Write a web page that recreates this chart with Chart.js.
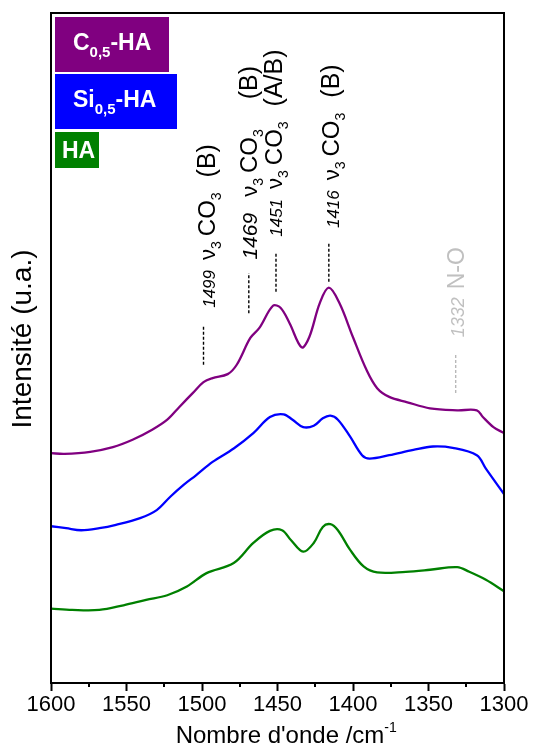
<!DOCTYPE html>
<html>
<head>
<meta charset="utf-8">
<script src="https://cdn.jsdelivr.net/npm/chart.js@4.4.0/dist/chart.umd.min.js"></script>
<style>
  html, body { margin: 0; padding: 0; background: #fff; }
  #wrap { width: 533px; height: 749px; }
</style>
</head>
<body>
<div id="wrap"><canvas id="spectra" width="533" height="749"></canvas></div>
<script>
// FTIR spectra, carbonate region (wavenumber in cm-1, intensity in a.u.)
const wnC = [1600, 1591, 1574, 1559, 1546, 1533, 1523, 1515, 1506, 1499, 1493, 1483, 1477, 1468, 1462, 1453, 1448, 1442, 1434, 1429, 1422, 1416, 1409, 1400, 1391, 1384, 1376, 1364, 1349, 1331, 1318, 1314, 1307, 1300];
const intC = [34.3, 34.2, 34.5, 35.2, 36.3, 37.8, 39.3, 41.2, 43.3, 44.9, 45.5, 46.1, 47.5, 51.5, 53.0, 56.3, 56.0, 53.7, 50.1, 51.6, 56.7, 59.0, 56.7, 51.6, 46.7, 44.0, 42.7, 41.9, 41.0, 40.7, 40.7, 39.7, 38.2, 37.3];

const wnSi = [1600, 1590, 1580, 1568, 1557, 1541, 1530, 1521, 1512, 1504, 1493, 1479, 1466, 1455, 1446, 1440, 1433, 1426, 1420, 1415, 1410, 1402, 1394, 1389, 1376, 1360, 1347, 1334, 1318, 1312, 1300];
const intSi = [23.4, 23.1, 22.8, 23.1, 23.6, 24.6, 25.8, 27.8, 29.6, 31.0, 33.0, 35.0, 37.3, 39.7, 40.1, 39.3, 38.2, 38.4, 39.5, 39.9, 39.3, 36.8, 34.0, 33.5, 34.0, 34.8, 35.3, 35.1, 34.0, 32.0, 28.2];

const wnHA = [1600, 1586, 1568, 1552, 1537, 1523, 1510, 1497, 1479, 1466, 1455, 1447, 1441, 1433, 1426, 1420, 1415, 1410, 1402, 1393, 1384, 1365, 1349, 1331, 1323, 1312, 1300];
const intHA = [11.1, 10.9, 10.9, 11.6, 12.4, 13.1, 14.4, 16.4, 17.9, 20.9, 22.7, 22.8, 21.3, 19.6, 20.9, 23.3, 23.7, 22.8, 19.9, 17.4, 16.5, 16.6, 16.9, 17.3, 16.6, 15.4, 13.7];

// band assignments
const bandPos = [1499, 1469, 1451, 1416, 1332];
const bandNum = ['1499', '1469', '1451', '1416', '1332'];
const bandSite = ['(B)', '(B)', '(A/B)', '(B)', ''];

const xTicks = [1600, 1550, 1500, 1450, 1400, 1350, 1300];

function toPoints(xs, ys) {
    return xs.map((x, i) => ({ x: x, y: ys[i] }));
}

const series = [
    { label: 'C0,5-HA', base: 'C', sub: '0,5', color: '#800080', data: toPoints(wnC, intC) },
    { label: 'Si0,5-HA', base: 'Si', sub: '0,5', color: '#0000ff', data: toPoints(wnSi, intSi) },
    { label: 'HA', base: 'HA', sub: '', color: '#008000', data: toPoints(wnHA, intHA) }
];

const FONT = '"Liberation Sans", Arial, sans-serif';

// draw a run of text parts (size, italic, bold, dy offset, gap before)
function drawParts(ctx, parts, x, y) {
    let cx = x;
    parts.forEach(p => {
        cx += p.gap || 0;
        ctx.font = (p.italic ? 'italic ' : '') + (p.bold ? 'bold ' : '') + p.size + 'px ' + FONT;
        ctx.fillText(p.t, cx, y + (p.dy || 0));
        cx += ctx.measureText(p.t).width;
    });
    return cx - x;
}

const decorPlugin = {
    id: 'decor',
    afterDraw(chart) {
        const ctx = chart.ctx;
        const area = chart.chartArea;
        const xs = chart.scales.x;
        const ys = chart.scales.y;
        ctx.save();

        // frame
        ctx.strokeStyle = '#000';
        ctx.lineWidth = 2;
        ctx.strokeRect(area.left, area.top, area.right - area.left, area.bottom - area.top);

        // minor ticks
        for (let v = 1575; v > 1300; v -= 50) {
            const px = Math.round(xs.getPixelForValue(v));
            ctx.beginPath();
            ctx.moveTo(px, area.bottom);
            ctx.lineTo(px, area.bottom + 4);
            ctx.stroke();
        }

        // band markers + labels
        const lineTop = [53.4, 61.2, 64.2, 65.8, 49.0];
        const lineBot = [47.5, 55.2, 58.4, 59.9, 43.3];
        const textStart = [56.0, 63.2, 66.6, 67.9, 51.6];
        const textShift = [11, 8, 6, 10, 8];
        const numSize = [17, 21, 17, 17, 18];
        const numGap = [10, 16, 10, 10, 8];
        const siteGap = [15, 30, 15, 15, 0];
        bandPos.forEach((b, i) => {
            const grey = i === 4;
            const px = xs.getPixelForValue(b);
            ctx.strokeStyle = grey ? '#b8b8b8' : '#000';
            ctx.lineWidth = 1.4;
            ctx.setLineDash([3, 2]);
            ctx.beginPath();
            ctx.moveTo(px, ys.getPixelForValue(lineBot[i]));
            ctx.lineTo(px, ys.getPixelForValue(lineTop[i]));
            ctx.stroke();
            ctx.setLineDash([]);

            ctx.save();
            ctx.translate(px + textShift[i], ys.getPixelForValue(textStart[i]));
            ctx.rotate(-Math.PI / 2);
            ctx.fillStyle = grey ? '#c0c0c0' : '#000';
            ctx.textBaseline = 'alphabetic';
            let parts;
            if (grey) {
                parts = [{ t: bandNum[i], italic: true, size: numSize[i] }, { t: 'N-O', size: 23, gap: numGap[i] }];
            } else {
                parts = [
                    { t: bandNum[i], italic: true, size: numSize[i] },
                    { t: 'ν', size: 22, gap: numGap[i] },
                    { t: '3', size: 14, dy: 6 },
                    { t: 'CO', size: 24, gap: 5 },
                    { t: '3', size: 14, dy: 6 },
                    { t: bandSite[i], size: 25, gap: siteGap[i] }
                ];
            }
            drawParts(ctx, parts, 0, 0);
            ctx.restore();
        });

        // legend boxes
        const boxes = [[55, 17, 114, 55], [55, 74, 122, 55], [55, 132, 44, 36]];
        const textPos = [[73, 50], [73, 107], [62, 158]];
        series.forEach((s, i) => {
            const r = boxes[i];
            ctx.fillStyle = s.color;
            ctx.fillRect(r[0], r[1], r[2], r[3]);
            ctx.fillStyle = '#fff';
            ctx.textBaseline = 'alphabetic';
            const parts = s.sub
                ? [{ t: s.base, size: 23, bold: true }, { t: s.sub, size: 15, bold: true, dy: 7 }, { t: '-HA', size: 23, bold: true }]
                : [{ t: s.base, size: 23, bold: true }];
            drawParts(ctx, parts, textPos[i][0], textPos[i][1]);
        });

        // y axis title
        ctx.fillStyle = '#000';
        ctx.save();
        ctx.translate(31, 339);
        ctx.rotate(-Math.PI / 2);
        ctx.font = '28px ' + FONT;
        ctx.textAlign = 'center';
        ctx.fillText('Intensité (u.a.)', 0, 0);
        ctx.restore();

        // x axis title with superscript
        ctx.textAlign = 'left';
        ctx.font = '24px ' + FONT;
        const main = "Nombre d'onde /cm";
        const wMain = ctx.measureText(main).width;
        let x0 = 285 - (wMain + 10) / 2;
        ctx.fillText(main, x0, 743);
        ctx.font = '14px ' + FONT;
        ctx.fillText('-1', x0 + wMain, 732);

        ctx.restore();
    }
};

new Chart('spectra', {
    type: 'line',
    data: {
        datasets: series.map(s => ({
            label: s.label,
            data: s.data,
            borderColor: s.color,
            borderWidth: 2.3,
            pointRadius: 0,
            tension: 0.35,
            fill: false
        }))
    },
    options: {
        responsive: false,
        animation: false,
        devicePixelRatio: 1,
        layout: { padding: { left: 0, right: 29, top: 13, bottom: 0 } },
        plugins: {
            legend: { display: false },
            tooltip: { enabled: false }
        },
        scales: {
            x: {
                type: 'linear',
                reverse: true,
                min: 1300,
                max: 1600,
                afterBuildTicks: scale => { scale.ticks = xTicks.map(v => ({ value: v })); },
                afterFit: scale => { scale.height = 66; },
                border: { display: true, color: '#000', width: 2 },
                grid: { drawOnChartArea: false, drawTicks: true, tickLength: 8, tickColor: '#000', tickWidth: 2 },
                ticks: {
                    color: '#000',
                    padding: 1,
                    maxRotation: 0,
                    callback: v => String(v),
                    font: { family: FONT, size: 22 }
                }
            },
            y: {
                min: 0,
                max: 100,
                afterFit: scale => { scale.width = 51; },
                border: { display: true, color: '#000', width: 2 },
                grid: { display: false, drawTicks: false },
                ticks: { display: false }
            }
        }
    },
    plugins: [decorPlugin]
});
</script>
</body>
</html>
